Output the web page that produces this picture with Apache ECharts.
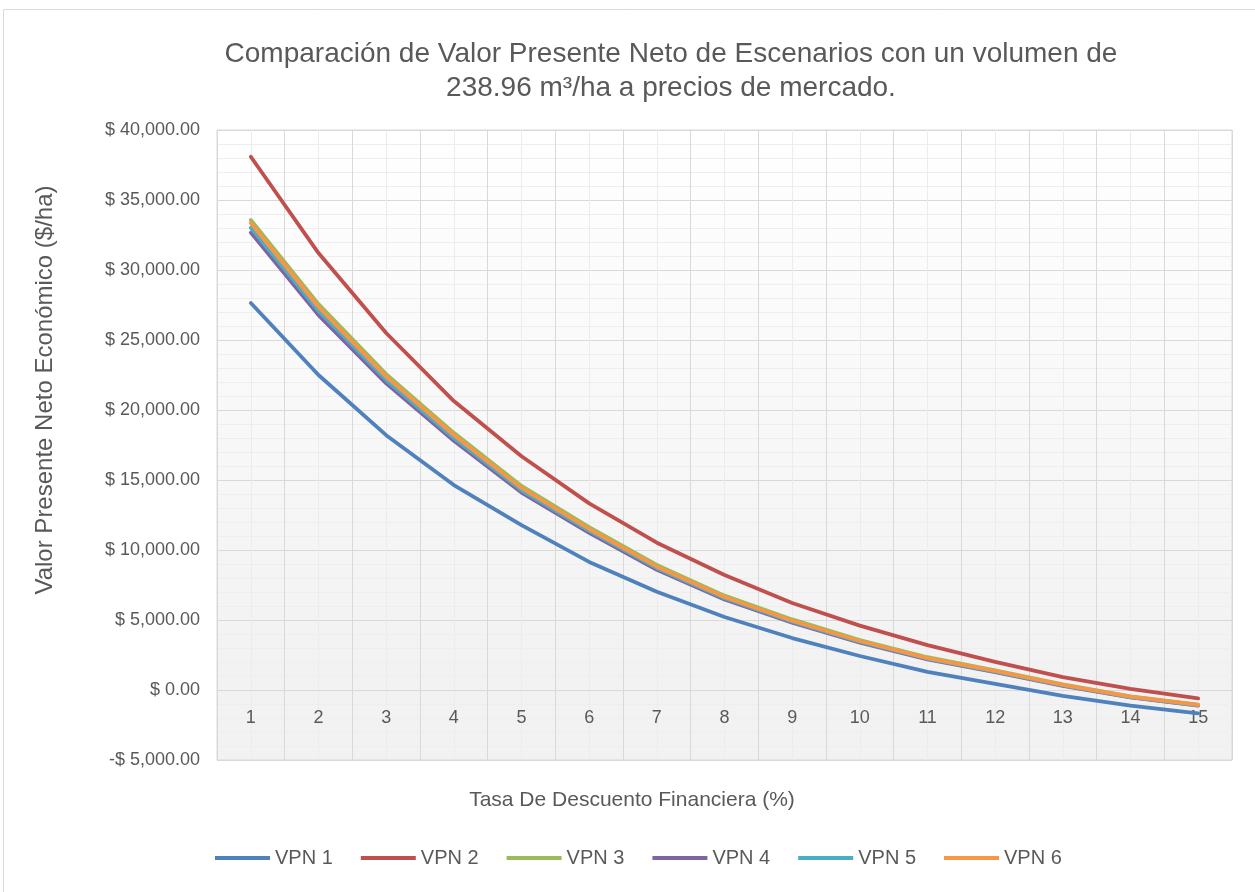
<!DOCTYPE html>
<html>
<head>
<meta charset="utf-8">
<script src="https://cdn.jsdelivr.net/npm/echarts@6/dist/echarts.min.js"></script>
<style>
  html, body { margin: 0; padding: 0; background: #fff; }
  #chart { width: 1255px; height: 892px; }
</style>
</head>
<body>
<div id="chart"></div>
<script>
// discount rate (%) categories
const tasas = ['1', '2', '3', '4', '5', '6', '7', '8', '9', '10', '11', '12', '13', '14', '15']

// VPN per scenario ($/ha)
const vpn1 = [27640, 22500, 18200, 14640, 11780, 9150, 7020, 5210, 3710, 2430, 1290, 430, -420, -1120, -1670]
const vpn2 = [38090, 31210, 25500, 20640, 16700, 13330, 10520, 8210, 6210, 4600, 3210, 2010, 920, 80, -600]
const vpn3 = [33570, 27560, 22560, 18370, 14580, 11630, 8930, 6740, 5040, 3570, 2340, 1410, 400, -450, -1050]
const vpn4 = [32670, 26780, 21900, 17800, 14100, 11220, 8590, 6460, 4810, 3380, 2190, 1280, 300, -530, -1110]
const vpn5 = [33020, 27070, 22140, 18000, 14260, 11360, 8700, 6550, 4880, 3440, 2230, 1320, 330, -510, -1090]
const vpn6 = [33360, 27360, 22380, 18210, 14430, 11500, 8810, 6640, 4950, 3500, 2280, 1360, 360, -480, -1070]

const seriesNames = ['VPN 1', 'VPN 2', 'VPN 3', 'VPN 4', 'VPN 5', 'VPN 6']
const seriesData = [vpn1, vpn2, vpn3, vpn4, vpn5, vpn6]
const colors = ['#4F81BD', '#C0504D', '#9BBB59', '#8064A2', '#4BACC6', '#F79646']

const textColor = '#595959'
const gridColor = '#d9d9d9'
const fontFamily = '"Liberation Sans", Arial, sans-serif'

const fmtMoney = (v) => {
  const s = Math.abs(v).toLocaleString('en-US', { minimumFractionDigits: 2, maximumFractionDigits: 2 })
  return (v < 0 ? '-$ ' : '$ ') + s
}

const chart = echarts.init(document.getElementById('chart'))

chart.setOption({
  color: colors,
  textStyle: { fontFamily: fontFamily },
  title: {
    text: 'Comparación de Valor Presente Neto de Escenarios con un volumen de\n238.96 m³/ha a precios de mercado.',
    left: 666,
    top: 32,
    textAlign: 'center',
    textStyle: {
      color: textColor,
      fontSize: 28,
      fontWeight: 'normal',
      lineHeight: 34,
      fontFamily: fontFamily
    }
  },
  legend: {
    data: seriesNames,
    bottom: 19,
    left: 210,
    icon: 'rect',
    itemWidth: 55,
    itemHeight: 4,
    itemGap: 28,
    textStyle: { color: textColor, fontSize: 20, fontFamily: fontFamily }
  },
  graphic: [
    {
      type: 'rect',
      silent: true,
      z: -10,
      shape: { x: 3.5, y: 9.5, width: 1280, height: 920 },
      style: { fill: null, stroke: gridColor, lineWidth: 1 }
    },
    {
      type: 'text',
      x: 45,
      y: 390,
      rotation: Math.PI / 2,
      style: {
        text: 'Valor Presente Neto Económico ($/ha)',
        fill: textColor,
        fontSize: 24,
        fontFamily: fontFamily,
        align: 'center',
        verticalAlign: 'middle'
      }
    },
    {
      type: 'text',
      x: 632,
      y: 800,
      style: {
        text: 'Tasa De Descuento Financiera (%)',
        fill: textColor,
        fontSize: 21,
        fontFamily: fontFamily,
        align: 'center',
        verticalAlign: 'middle'
      }
    }
  ],
  grid: {
    left: 217,
    right: 23,
    top: 130,
    bottom: 132,
    show: true,
    borderColor: gridColor,
    borderWidth: 1,
    backgroundColor: {
      type: 'linear', x: 0, y: 0, x2: 0, y2: 1,
      colorStops: [
        { offset: 0, color: '#ffffff' },
        { offset: 0.85, color: '#f2f2f2' },
        { offset: 1, color: '#f2f2f2' }
      ]
    }
  },
  xAxis: [
    {
      type: 'category',
      data: tasas,
      position: 'bottom',
      offset: -70, // axis sits on the zero line
      boundaryGap: true,
      axisLine: { onZero: false, lineStyle: { color: gridColor, width: 1 } },
      axisTick: { show: false },
      axisLabel: { color: textColor, fontSize: 18, margin: 19 },
      splitLine: { show: true, lineStyle: { color: gridColor, width: 1 } }
    },
    {
      // hidden helper axis: light lines at category centres
      type: 'value',
      position: 'top',
      min: 0,
      max: 15,
      interval: 1,
      axisLine: { show: false, onZero: false },
      axisTick: { show: false },
      axisLabel: { show: false },
      splitLine: { show: false },
      minorTick: { show: false, splitNumber: 2 },
      minorSplitLine: { show: true, lineStyle: { color: '#ececec', width: 1 } }
    }
  ],
  yAxis: {
    type: 'value',
    min: -5000,
    max: 40000,
    interval: 5000,
    axisLine: { show: false },
    axisTick: { show: false },
    axisLabel: { color: textColor, fontSize: 18, margin: 17, formatter: fmtMoney },
    splitLine: { show: true, lineStyle: { color: gridColor, width: 1 } },
    minorTick: { show: false, splitNumber: 5 },
    minorSplitLine: { show: true, lineStyle: { color: '#eeeeee', width: 1 } }
  },
  series: seriesNames.map((name, i) => ({
    name: name,
    type: 'line',
    data: seriesData[i],
    xAxisIndex: 0,
    symbol: 'none',
    smooth: false,
    lineStyle: { width: 3.8, color: colors[i], cap: 'round', join: 'round' },
    itemStyle: { color: colors[i] },
    z: 3
  }))
})
</script>
</body>
</html>
